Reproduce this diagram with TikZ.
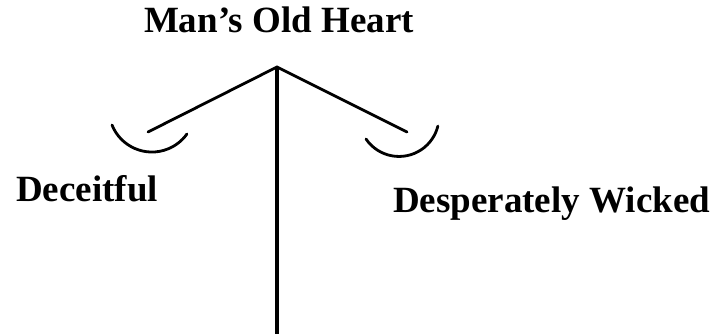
\documentclass[tikz,border=0pt]{standalone}
\usepackage{fontspec}
\setmainfont{Liberation Serif}
\usetikzlibrary{positioning}

\begin{document}
\begin{tikzpicture}[x=1pt,y=-1pt,
  beam/.style={line width=2.8pt,line cap=round},
  heading/.style={font=\bfseries\fontsize{37}{40}\selectfont,inner sep=0pt}]
\useasboundingbox (0,0) rectangle (715,334);

% Scale frame
\coordinate (pivot) at (277,67);
\coordinate (foot) at (277,334);
\coordinate (armL) at (148,132);
\coordinate (armR) at (407,132);
\draw[line width=3.4pt] (pivot) -- (foot);
\draw[beam] (armL) -- (pivot) -- (armR);

% Pans
\draw[beam] (112,125) arc[start angle=201.8,end angle=324.5,radius=43pt];
\draw[beam] (366,139) arc[start angle=214.3,end angle=346.1,radius=40pt];

% Labels
\node[heading,anchor=base] (title) at (279,33) {Man’s Old Heart};
\node[heading,anchor=base west] (deceit) at (16,201) {Deceitful};
\node[heading,anchor=base west] (wicked) at (393,212) {Desperately Wicked};
\end{tikzpicture}
\end{document}
